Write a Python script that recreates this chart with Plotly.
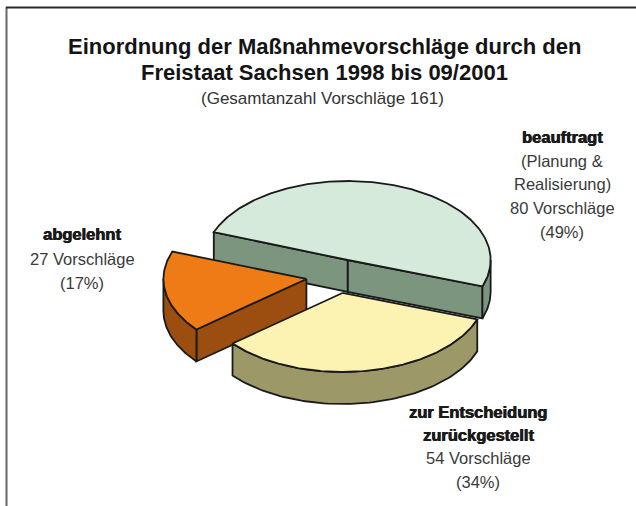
import numpy as np
import plotly.graph_objects as go

# --- data -------------------------------------------------------------
categories = ["beauftragt", "abgelehnt", "zur Entscheidung zurückgestellt"]
counts = [80, 27, 54]
percent_text = ["49%", "17%", "34%"]
total = 161

# label lines (bold heading lines, then regular lines)
heading_lines = [["beauftragt"], ["abgelehnt"], ["zur Entscheidung", "zurückgestellt"]]
extra_lines = [["(Planung &", "Realisierung)"], [], []]

title_lines = ["Einordnung der Maßnahmevorschläge durch den",
               "Freistaat Sachsen 1998 bis 09/2001"]
subtitle = f"(Gesamtanzahl Vorschläge {total})"

# --- styling ----------------------------------------------------------
top_colors = ["#d5eadb", "#ee7b16", "#fcf3b2"]
side_colors = ["#7b957f", "#9c4e10", "#9c9868"]
outline = "#1a1a1a"

W, H = 636, 506
CX, CY = 337.0, 276.1      # centre of the pie (pixel space)
RX, RY = 143.0, 79.0       # ellipse radii of the tilted disc
DEPTH = 32.0               # thickness of the disc
EXPLODE = 0.217            # slice offset as a fraction of the radius
START = -19.5              # angle (deg) where the first slice begins

label_pos = [(562, [137, 161, 184, 208, 232]),
             (82, [234, 259, 283]),
             (478, [412, 435, 458, 482])]

FONT = "Liberation Sans, Arial"
HEAVY = "0.5px 0 0 #1a1a1a, -0.3px 0 0 #1a1a1a"


def pt(t_deg, ox, oy, dz=0.0):
    t = np.radians(t_deg)
    return CX + ox + RX * np.cos(t), CY + oy - RY * np.sin(t) + dz


def lower_half_parts(t1, t2):
    """Parts of [t1, t2] where the outer wall faces the viewer (sin <= 0)."""
    parts = []
    for k in range(-2, 3):
        a, b = 180 + 360 * k, 360 + 360 * k
        lo, hi = max(t1, a), min(t2, b)
        if hi > lo:
            parts.append((lo, hi))
    return parts


fig = go.Figure()


def poly(xs, ys, fill):
    fig.add_trace(go.Scatter(
        x=list(xs), y=list(ys), mode="lines", fill="toself",
        fillcolor=fill, line=dict(color=outline, width=1.8),
        hoverinfo="skip", showlegend=False))


# angular spans, counter-clockwise from START
fractions = np.array(counts) / total
edges = START + 360 * np.concatenate([[0], np.cumsum(fractions)])

# draw back (first slice) to front
for i in range(len(counts)):
    t1, t2 = edges[i], edges[i + 1]
    mid = np.radians((t1 + t2) / 2)
    ox, oy = EXPLODE * RX * np.cos(mid), -EXPLODE * RY * np.sin(mid)
    tipx, tipy = CX + ox, CY + oy

    # radial walls that face the viewer
    for t, facing in ((t1, np.cos(np.radians(t1)) > 0),
                      (t2, np.cos(np.radians(t2)) < 0)):
        if facing:
            ex, ey = pt(t, ox, oy)
            poly([tipx, ex, ex, tipx, tipx],
                 [tipy, ey, ey + DEPTH, tipy + DEPTH, tipy], side_colors[i])

    # outer curved wall
    for lo, hi in lower_half_parts(t1, t2):
        ts = np.linspace(lo, hi, 80)
        xs_top, ys_top = pt(ts, ox, oy)
        xs = np.concatenate([xs_top, xs_top[::-1], xs_top[:1]])
        ys = np.concatenate([ys_top, ys_top[::-1] + DEPTH, ys_top[:1]])
        poly(xs, ys, side_colors[i])

    # top face
    ts = np.linspace(t1, t2, 200)
    ax_, ay_ = pt(ts, ox, oy)
    poly(np.concatenate([[tipx], ax_, [tipx]]),
         np.concatenate([[tipy], ay_, [tipy]]), top_colors[i])

# --- text -------------------------------------------------------------
annotations = []
for ln, y in zip(title_lines, [46, 72]):
    annotations.append(dict(x=324, y=y, text=f"<b>{ln}</b>",
                            font=dict(family=FONT, size=22, color="#141414")))
annotations.append(dict(x=322, y=98, text=subtitle,
                        font=dict(family=FONT, size=17, color="#333333")))

for i in range(len(counts)):
    x, ys = label_pos[i]
    lines = [(f"<b>{s}</b>", True) for s in heading_lines[i]]
    lines += [(s, False) for s in extra_lines[i]]
    lines += [(f"{counts[i]} Vorschläge", False), (f"({percent_text[i]})", False)]
    for (txt, bold), y in zip(lines, ys):
        font = dict(family=FONT, size=16.5, color="#1a1a1a" if bold else "#3a3a3a")
        if bold:
            font["shadow"] = HEAVY
        annotations.append(dict(x=x, y=y, text=txt, font=font))

for a in annotations:
    a.update(xref="x", yref="y", showarrow=False, xanchor="center", yanchor="middle")

# frame lines (left and top)
shapes = [
    dict(type="line", x0=6.5, x1=6.5, y0=7, y1=H, line=dict(color="#666666", width=2)),
    dict(type="line", x0=6, x1=W, y0=7.5, y1=7.5, line=dict(color="#2a2a2a", width=2)),
]

fig.update_layout(
    width=W, height=H, margin=dict(l=0, r=0, t=0, b=0),
    paper_bgcolor="white", plot_bgcolor="white",
    xaxis=dict(range=[0, W], visible=False, fixedrange=True),
    yaxis=dict(range=[H, 0], visible=False, fixedrange=True),
    annotations=annotations, shapes=shapes, showlegend=False,
)

fig.write_html("out.html")
